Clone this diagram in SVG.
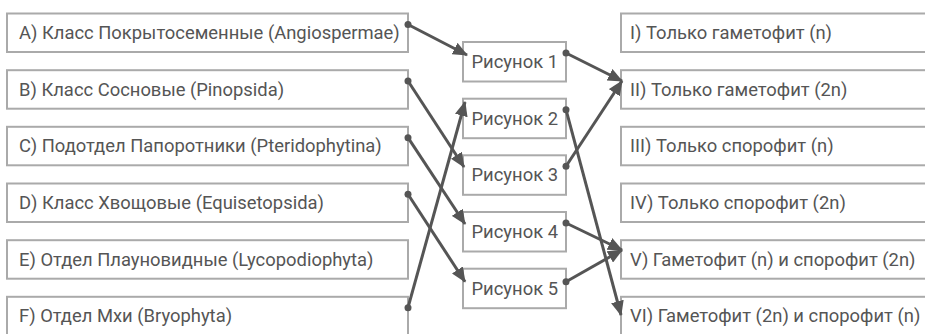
<svg xmlns="http://www.w3.org/2000/svg" width="925" height="334" viewBox="0 0 925 334">
<defs>
<style>
.box{fill:#fff;stroke:#aaa;stroke-width:2}
.t{font-family:Roboto,"Liberation Sans",sans-serif;font-size:18.4px;fill:#555}
.c{stroke:#555;stroke-width:3;fill:none;marker-end:url(#ah)}
.d{fill:#555}
</style>
<marker id="ah" markerUnits="userSpaceOnUse" markerWidth="15" markerHeight="13" refX="14" refY="6.5" orient="auto" viewBox="0 0 15 13">
<path d="M0,0 L15,6.5 L0,13 z" fill="#555"/>
</marker>
</defs>
<rect width="925" height="334" fill="#fff"/>
<g id="A"><rect class="box" x="7" y="13.5" width="401" height="38.5"/><text class="t" x="19" y="39">A) Класс Покрытосеменные (Angiospermae)</text></g>
<g id="B"><rect class="box" x="7" y="70.2" width="401" height="38.5"/><text class="t" x="19" y="95.7">B) Класс Сосновые (Pinopsida)</text></g>
<g id="C"><rect class="box" x="7" y="126.8" width="401" height="38.5"/><text class="t" x="19" y="152.3">C) Подотдел Папоротники (Pteridophytina)</text></g>
<g id="D"><rect class="box" x="7" y="183.5" width="401" height="38.5"/><text class="t" x="19" y="209">D) Класс Хвощовые (Equisetopsida)</text></g>
<g id="E"><rect class="box" x="7" y="240.2" width="401" height="38.5"/><text class="t" x="19" y="265.7">E) Отдел Плауновидные (Lycopodiophyta)</text></g>
<g id="F"><rect class="box" x="7" y="296.8" width="401" height="38.5"/><text class="t" x="19" y="322.3">F) Отдел Мхи (Bryophyta)</text></g>
<g id="P1"><rect class="box" x="463" y="42" width="103" height="39.5"/><text class="t" x="471.5" y="68">Рисунок 1</text></g>
<g id="P2"><rect class="box" x="463" y="98.7" width="103" height="39.5"/><text class="t" x="471.5" y="124.7">Рисунок 2</text></g>
<g id="P3"><rect class="box" x="463" y="155.3" width="103" height="39.5"/><text class="t" x="471.5" y="181.3">Рисунок 3</text></g>
<g id="P4"><rect class="box" x="463" y="212" width="103" height="39.5"/><text class="t" x="471.5" y="238">Рисунок 4</text></g>
<g id="P5"><rect class="box" x="463" y="268.7" width="103" height="39.5"/><text class="t" x="471.5" y="294.7">Рисунок 5</text></g>
<g id="R1"><rect class="box" x="621" y="13.5" width="320" height="38.5"/><text class="t" x="630" y="39">I) Только гаметофит (n)</text></g>
<g id="R2"><rect class="box" x="621" y="70.2" width="320" height="38.5"/><text class="t" x="630" y="95.7">II) Только гаметофит (2n)</text></g>
<g id="R3"><rect class="box" x="621" y="126.8" width="320" height="38.5"/><text class="t" x="630" y="152.3">III) Только спорофит (n)</text></g>
<g id="R4"><rect class="box" x="621" y="183.5" width="320" height="38.5"/><text class="t" x="630" y="209">IV) Только спорофит (2n)</text></g>
<g id="R5"><rect class="box" x="621" y="240.2" width="320" height="38.5"/><text class="t" x="630" y="265.7">V) Гаметофит (n) и спорофит (2n)</text></g>
<g id="R6"><rect class="box" x="621" y="296.8" width="320" height="38.5"/><text class="t" x="630" y="322.3">VI) Гаметофит (2n) и спорофит (n)</text></g>
<g id="connectors">
<path class="c" d="M408,24.5 L467,55"/>
<path class="c" d="M408,81 L464,167"/>
<path class="c" d="M408,137.7 L465,224"/>
<path class="c" d="M408,194.3 L465,281.7"/>
<path class="c" d="M408,307.7 L465,102"/>
<path class="c" d="M566,53 L622,81"/>
<path class="c" d="M566,166.3 L622,81"/>
<path class="c" d="M566,109.7 L621,315"/>
<path class="c" d="M566,223 L622,250"/>
<path class="c" d="M566,281.7 L622,250"/>
<circle class="d" cx="408" cy="24.5" r="3.5"/>
<circle class="d" cx="408" cy="81" r="3.5"/>
<circle class="d" cx="408" cy="137.7" r="3.5"/>
<circle class="d" cx="408" cy="194.3" r="3.5"/>
<circle class="d" cx="408" cy="307.7" r="3.5"/>
<circle class="d" cx="566" cy="53" r="3.5"/>
<circle class="d" cx="566" cy="109.7" r="3.5"/>
<circle class="d" cx="566" cy="166.3" r="3.5"/>
<circle class="d" cx="566" cy="223" r="3.5"/>
<circle class="d" cx="566" cy="281.7" r="3.5"/>
</g>
</svg>
